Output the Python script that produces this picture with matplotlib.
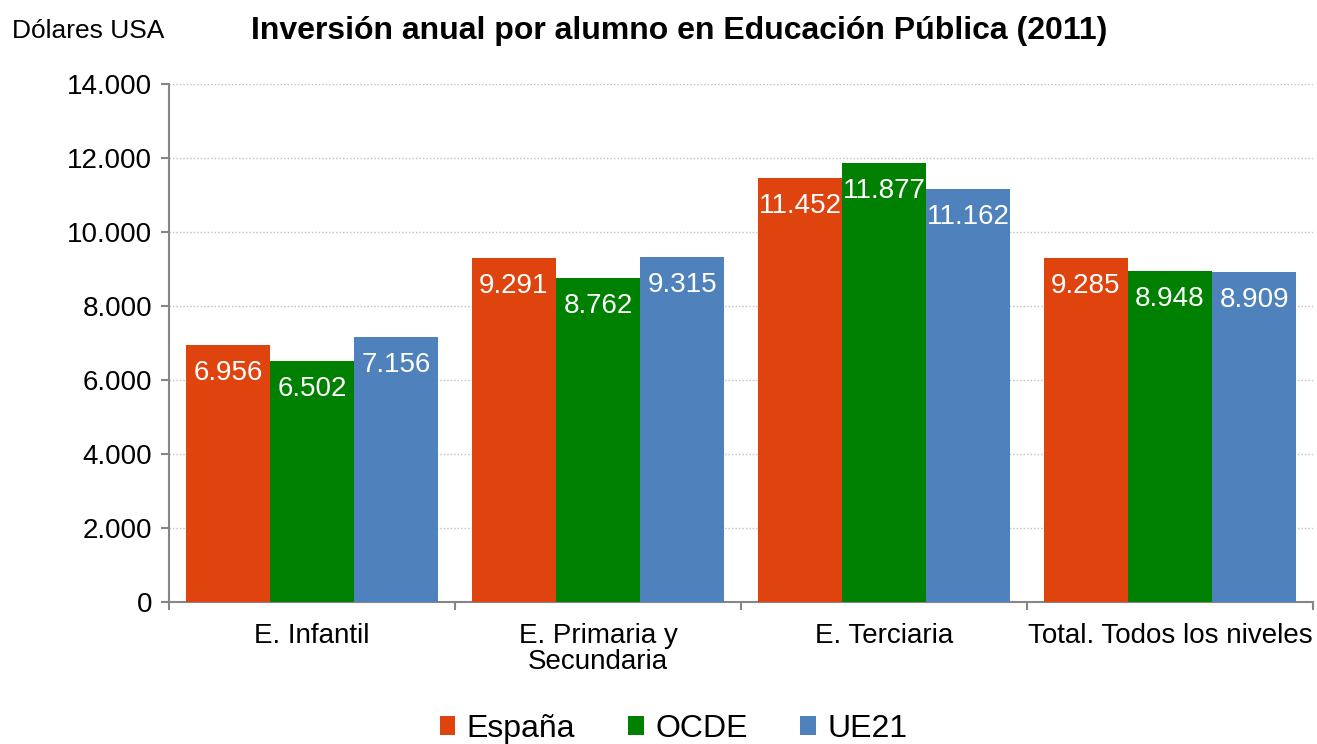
import matplotlib
matplotlib.use("Agg")
import matplotlib.pyplot as plt
from matplotlib.ticker import FuncFormatter, FixedLocator
import numpy as np

plt.rcParams['font.family'] = ['Liberation Sans', 'DejaVu Sans']

categories = ["E. Infantil", "E. Primaria y\nSecundaria", "E. Terciaria", "Total. Todos los niveles"]
series_names = ["España", "OCDE", "UE21"]
espana = [6956, 9291, 11452, 9285]
ocde = [6502, 8762, 11877, 8948]
ue21 = [7156, 9315, 11162, 8909]
colors = ["#E0440E", "#008000", "#4F81BD"]

fig = plt.figure(figsize=(13.17, 7.44), dpi=100)
ax = fig.add_axes([0.1283, 0.1909, 0.8687, 0.6962])

x = np.arange(len(categories))
w = 0.294
for i, (vals, col, name) in enumerate(zip([espana, ocde, ue21], colors, series_names)):
    pos = x + (i - 1) * w
    ax.bar(pos, vals, width=w, color=col, label=name, zorder=3)
    for p, v in zip(pos, vals):
        ax.annotate(f"{v:,}".replace(",", "."), (p, v), xytext=(0, -28),
                    textcoords="offset pixels", ha="center", va="center",
                    color="white", fontsize=20, zorder=4)

ax.set_xlim(-0.5, len(categories) - 0.5)
ax.set_ylim(0, 14000)
ax.set_yticks(np.arange(0, 14001, 2000))
ax.yaxis.set_major_formatter(FuncFormatter(lambda v, p: f"{int(v):,}".replace(",", ".")))
ax.grid(axis="y", color="#BFBFBF", linestyle=(0, (1, 1.5)), linewidth=1, zorder=0)

ax.set_xticks(x)
ax.set_xticklabels(categories, fontsize=20, linespacing=1.0)
ax.tick_params(axis="x", length=0, pad=15)
ax.xaxis.set_minor_locator(FixedLocator(np.arange(-0.5, len(categories), 1)))
ax.tick_params(axis="x", which="minor", length=6, color="#868686", width=1.5)
ax.tick_params(axis="y", labelsize=20, length=6, color="#868686", width=1.5, pad=6)

for s in ["top", "right"]:
    ax.spines[s].set_visible(False)
for s in ["left", "bottom"]:
    ax.spines[s].set_color("#868686")
    ax.spines[s].set_linewidth(1.5)

fig.text(0.009, 0.958, "Dólares USA", fontsize=19, ha="left", va="center")
fig.text(0.5156, 0.958, "Inversión anual por alumno en Educación Pública (2011)",
         fontsize=23, fontweight="bold", ha="center", va="center")

ax.legend(loc="center", bbox_to_anchor=(0.441, -0.245), ncol=3, frameon=False,
          fontsize=23, handlelength=0.5, handleheight=0.5, handletextpad=0.35,
          columnspacing=1.65, borderaxespad=0)

fig.savefig("out.png", dpi=100)
